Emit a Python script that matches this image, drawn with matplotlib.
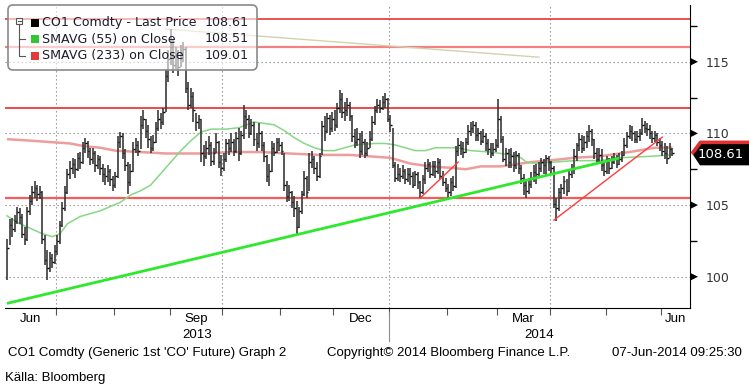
import numpy as np
import pandas as pd
import matplotlib
matplotlib.use("Agg")
import matplotlib.pyplot as plt
import matplotlib.transforms as mtransforms
from matplotlib.patches import FancyBboxPatch, Polygon, Rectangle
from matplotlib.lines import Line2D

W, H = 749, 390

# trading days shown on the chart
first_day, last_day = "2013-06-03", "2014-06-06"

# daily closes, one row per week
closes = [
    102.0, 103.6, 103.3, 103.9, 104.5,
    104.2, 103.0, 102.6, 104.6, 105.3,
    105.9, 106.2, 105.8, 105.9, 102.6,
    101.2, 100.6, 101.3, 101.0, 101.8,
    102.5, 103.6, 104.8, 105.9, 107.2,
    107.6, 107.9, 107.5, 108.3, 108.0,
    109.0, 109.3, 108.8, 108.2, 108.6,
    107.8, 108.2, 107.6, 107.2, 107.0,
    107.4, 106.8, 106.4, 107.0, 109.4,
    109.8, 108.6, 107.8, 106.6, 107.4,
    108.9, 109.2, 108.8, 110.6, 111.0,
    110.2, 109.6, 109.0, 109.4, 110.4,
    111.0, 110.8, 111.5, 114.0, 115.2,
    116.0, 114.8, 115.4, 114.6, 115.6,
    115.9, 113.2, 112.0, 112.6, 111.6,
    110.8, 111.0, 108.6, 108.4, 109.0,
    109.2, 108.1, 108.6, 109.4, 108.0,
    107.6, 108.2, 109.3, 109.0, 109.4,
    108.8, 109.7, 108.6, 109.9, 111.2,
    111.0, 110.0, 110.6, 109.6, 109.3,
    110.0, 109.2, 108.4, 107.0, 107.4,
    109.0, 108.7, 109.4, 109.2, 108.8,
    106.4, 105.6, 105.9, 105.2, 104.8,
    103.5, 104.6, 105.8, 106.9, 105.9,
    108.0, 108.2, 107.6, 107.0, 108.4,
    110.5, 110.2, 111.1, 110.4, 111.0,
    110.6, 111.8, 112.4, 111.5, 111.6,
    112.0, 111.2, 109.8, 109.4, 109.6,
    108.8, 109.4, 108.6, 109.0, 109.6,
    110.8, 111.6, 112.0, 111.8, 112.2,
    112.4, 111.0, 110.6, 107.8, 106.9,
    107.2, 107.0, 107.4, 106.8, 107.2,
    107.0, 106.4, 107.2, 106.6, 105.9,
    106.8, 107.6, 107.9, 107.2, 107.7,
    107.4, 108.0, 107.0, 106.6, 106.2,
    105.9, 106.6, 106.3, 108.8, 109.2,
    109.0, 108.7, 109.4, 110.2, 110.4,
    110.6, 109.9, 110.0, 109.5, 109.8,
    109.3, 108.9, 108.6, 108.9, 109.2,
    111.0, 109.6, 108.2, 108.6, 108.0,
    108.4, 107.8, 108.5, 107.6, 106.9,
    106.4, 106.0, 106.5, 106.9, 107.3,
    107.2, 107.6, 108.0, 107.8, 108.3,
    108.0, 107.6, 105.1, 104.8, 105.9,
    106.2, 106.7, 106.0, 107.2, 107.5,
    108.4, 109.2, 109.6, 109.0, 109.4,
    109.8, 110.2, 109.6, 108.6, 108.2,
    108.5, 107.8, 107.4, 108.1, 107.6,
    108.0, 108.3, 107.9, 108.2, 108.5,
    109.2, 109.8, 110.2, 110.0, 109.6,
    109.8, 110.0, 110.6, 110.4, 110.3,
    110.0, 109.7, 109.9, 109.4, 109.2,
    108.8, 108.6, 108.3, 108.9, 108.61,
]

highs = [
    102.6, 104.0, 104.1, 104.3, 104.9,
    104.8, 104.4, 103.5, 104.9, 105.7,
    106.3, 106.7, 106.4, 106.3, 106.0,
    102.9, 101.9, 101.7, 101.6, 102.2,
    102.9, 103.9, 105.2, 106.3, 107.5,
    108.1, 108.3, 108.2, 108.6, 108.7,
    109.4, 109.7, 109.5, 109.0, 109.0,
    108.8, 108.5, 108.4, 107.9, 107.6,
    107.8, 107.5, 107.0, 107.3, 109.8,
    110.1, 110.0, 108.9, 108.0, 107.9,
    109.4, 109.7, 109.5, 111.2, 111.6,
    111.0, 110.6, 109.8, 109.9, 110.8,
    111.6, 111.4, 111.8, 114.5, 115.8,
    117.3, 116.6, 116.0, 115.8, 116.2,
    116.4, 116.0, 113.6, 113.2, 112.9,
    111.4, 111.3, 111.0, 109.2, 109.5,
    109.8, 109.4, 109.0, 110.0, 109.5,
    108.5, 108.6, 109.6, 109.6, 110.0,
    109.6, 110.1, 110.4, 110.2, 112.0,
    111.6, 111.3, 111.0, 110.8, 110.0,
    110.7, 110.2, 109.4, 108.5, 107.9,
    109.5, 109.3, 109.7, 109.7, 109.4,
    108.6, 106.7, 106.4, 106.0, 105.6,
    105.3, 104.9, 106.0, 107.4, 107.0,
    108.6, 108.8, 108.4, 108.0, 108.6,
    110.9, 111.2, 111.4, 111.3, 111.5,
    111.6, 112.1, 113.0, 112.8, 112.2,
    112.5, 112.2, 111.3, 110.3, 110.4,
    110.0, 110.2, 109.6, 109.4, 110.2,
    111.2, 111.9, 112.4, 112.3, 112.6,
    112.8, 112.5, 111.3, 110.4, 108.0,
    107.9, 107.6, 107.8, 107.5, 107.6,
    107.6, 107.3, 107.4, 107.3, 106.7,
    107.1, 108.0, 108.2, 108.0, 108.1,
    108.1, 108.3, 108.2, 107.4, 106.9,
    106.5, 106.9, 107.0, 109.1, 109.7,
    109.5, 109.4, 109.7, 110.6, 110.8,
    110.9, 110.8, 110.4, 110.2, 110.3,
    110.0, 109.6, 109.3, 109.3, 109.6,
    112.4, 111.2, 109.8, 109.0, 108.9,
    109.0, 108.7, 108.8, 108.6, 107.8,
    107.2, 106.7, 106.9, 107.3, 107.8,
    107.9, 108.0, 108.3, 108.2, 108.5,
    108.4, 108.1, 107.7, 105.5, 106.2,
    106.5, 107.0, 106.8, 107.4, 107.9,
    108.9, 109.3, 110.0, 109.9, 109.8,
    110.2, 110.6, 110.3, 109.6, 109.0,
    109.0, 108.9, 108.1, 108.4, 108.3,
    108.4, 108.6, 108.5, 108.6, 108.8,
    109.7, 110.1, 110.6, 110.5, 110.2,
    110.2, 110.3, 111.1, 110.9, 110.7,
    110.6, 110.2, 110.2, 110.0, 109.7,
    109.5, 109.3, 109.1, 109.3, 109.0,
]

lows = [
    99.8, 102.2, 102.8, 103.1, 103.7,
    103.7, 102.7, 102.2, 102.5, 104.3,
    105.0, 105.5, 105.3, 105.4, 102.3,
    100.8, 99.8, 100.3, 100.6, 100.9,
    101.5, 102.3, 103.5, 104.6, 105.8,
    106.8, 107.2, 106.9, 107.4, 107.5,
    107.9, 108.6, 108.3, 107.8, 107.9,
    107.3, 107.5, 107.1, 106.6, 106.4,
    106.6, 106.3, 106.0, 106.2, 106.9,
    109.0, 108.2, 107.4, 105.8, 106.3,
    107.3, 108.6, 108.4, 108.9, 110.3,
    109.7, 109.0, 108.6, 108.8, 109.3,
    110.2, 110.3, 110.6, 111.5, 113.6,
    114.8, 114.2, 114.5, 114.0, 114.6,
    115.0, 112.8, 111.6, 111.8, 110.8,
    110.2, 110.3, 108.0, 107.7, 108.2,
    108.5, 107.7, 107.8, 108.6, 107.6,
    107.0, 107.4, 108.0, 108.5, 108.7,
    108.4, 108.6, 108.1, 108.5, 109.6,
    110.3, 109.7, 109.9, 109.1, 108.8,
    109.0, 108.8, 108.0, 106.6, 106.3,
    107.3, 108.4, 108.6, 108.8, 108.5,
    106.0, 105.2, 105.3, 104.8, 104.2,
    103.0, 103.4, 104.4, 105.6, 105.5,
    106.0, 107.6, 107.2, 106.7, 106.9,
    108.5, 109.5, 110.0, 109.9, 110.1,
    110.2, 110.4, 111.4, 111.1, 110.9,
    111.2, 110.9, 109.4, 109.0, 109.1,
    108.3, 108.5, 108.3, 108.4, 109.0,
    109.5, 110.6, 111.4, 111.4, 111.6,
    111.8, 110.8, 110.1, 107.6, 106.6,
    106.7, 106.6, 106.8, 106.5, 106.6,
    106.4, 106.2, 106.3, 106.1, 105.5,
    105.8, 106.5, 107.3, 106.9, 107.0,
    106.9, 107.2, 106.8, 106.3, 105.9,
    105.5, 105.6, 106.0, 106.2, 108.4,
    108.5, 108.3, 108.6, 109.2, 109.8,
    110.0, 109.5, 109.5, 109.2, 109.3,
    108.8, 108.5, 108.3, 108.4, 108.7,
    109.0, 109.3, 108.0, 107.7, 107.6,
    107.6, 107.3, 107.5, 107.2, 106.5,
    105.7, 105.5, 105.8, 106.2, 106.6,
    106.5, 106.9, 107.3, 107.2, 107.0,
    107.4, 107.1, 104.8, 103.9, 104.6,
    105.4, 105.8, 105.6, 105.9, 106.9,
    107.2, 108.1, 108.8, 108.6, 108.8,
    109.0, 109.4, 109.1, 108.2, 107.9,
    107.9, 107.4, 107.0, 107.2, 107.2,
    107.5, 107.9, 107.6, 107.8, 108.0,
    108.4, 109.0, 109.6, 109.5, 109.3,
    109.3, 109.5, 109.9, 110.0, 109.8,
    109.6, 109.3, 109.4, 109.1, 108.8,
    108.4, 108.2, 107.9, 108.3, 108.4,
]

# moving averages (trading day number, value)
ma55_day = [0, 5, 9, 14, 18, 21, 24, 29, 37, 45, 49, 53, 57, 61, 65, 69, 73, 77,
            81, 87, 92, 98, 102, 106, 110, 114, 118, 122, 126, 130, 134, 138,
            146, 150, 154, 158, 162, 166, 170, 178, 184, 192, 196, 200, 204,
            206, 210, 217, 225, 235, 243, 255, 264]
ma55 = [104.25, 103.7, 103.4, 103.0, 102.8, 103.0, 103.7, 104.2, 104.6, 105.2,
        105.7, 106.0, 106.4, 107.2, 108.0, 108.8, 109.5, 110.1, 110.3, 110.3,
        110.4, 110.8, 110.7, 110.6, 110.2, 109.7, 109.3, 109.0, 108.8, 108.8,
        109.0, 109.2, 109.3, 109.3, 109.2, 109.0, 108.8, 108.8, 109.0, 109.0,
        108.8, 108.7, 108.6, 108.5, 108.3, 108.0, 107.9, 108.0, 108.1, 108.1,
        108.3, 108.4, 108.51]

ma233_day = [0, 9, 17, 25, 31, 37, 43, 53, 63, 77, 90, 101, 112, 124, 136, 144,
             152, 160, 168, 176, 182, 188, 196, 204, 208, 214, 220, 225, 235,
             247, 257, 264]
ma233 = [109.6, 109.5, 109.4, 109.3, 109.1, 109.0, 108.8, 108.7, 108.6, 108.6,
         108.7, 108.7, 108.6, 108.5, 108.5, 108.4, 108.3, 107.9, 107.7, 107.6,
         107.5, 107.7, 107.7, 107.9, 108.0, 108.1, 108.2, 108.3, 108.4, 108.7,
         109.0, 109.01]

# drawn levels and trend lines
levels = [117.96, 116.05, 111.79, 105.51]
green_trend = ([0, 243], [98.14, 108.28])
red_trend_1 = ([164, 179], [105.5, 108.0])
red_trend_2 = ([217, 260], [103.95, 109.74])
tan_trend = ([63, 211], [117.28, 115.32])

legend_labels = ["CO1 Comdty - Last Price", "SMAVG (55) on Close", "SMAVG (233) on Close"]
legend_values = ["108.61", "108.51", "109.01"]
last_price = "108.61"

days = pd.bdate_range(first_day, last_day)
n = len(days)
idx = np.arange(n)

fig = plt.figure(figsize=(W / 100, H / 100), dpi=100)
ax = fig.add_axes([5 / W, 1 - 308 / H, 685 / W, 303 / H])
ax.set_xlim(-0.79, 271.0)
ax.set_ylim(97.82, 118.96)

PX = mtransforms.IdentityTransform()
narrow = ["Liberation Sans", "DejaVu Sans"]

# grid
dots = dict(color="#8c8c8c", lw=0.8, dashes=(1.2, 2.4), zorder=1)
for v in [100, 105, 110, 115]:
    ax.axhline(v, **dots)

month_new = np.flatnonzero(days.month[1:] != days.month[:-1]) + 1
bounds = month_new - 0.5
for b, i in zip(bounds, month_new):
    if days[i].month in (1, 4, 7, 10):
        ax.axvline(b, **dots)

# horizontal levels
level_colors = ["#e4231f", "#f58080", "#f24646", "#f45c5c"]
level_widths = [1.1, 1.6, 1.4, 1.6]
for v, c, w in zip(levels, level_colors, level_widths):
    ax.axhline(v, color=c, lw=w, zorder=2)

# moving averages
ax.plot(ma233_day, ma233, color="#ee9c9c", lw=1.8, zorder=2, solid_capstyle="butt")
ax.plot(ma55_day, ma55, color="#86d886", lw=1.1, zorder=2)
ax.plot(*tan_trend, color="#d2d2b0", lw=1.0, zorder=2)

# price bars
ax.vlines(idx, lows[:n], highs[:n], color="#3a3a3a", lw=1.2, zorder=3)
ax.hlines(closes[:n], idx, idx + 0.6, color="#000000", lw=1.0, zorder=3)

# trend lines
ax.plot(*green_trend, color="#2ee82e", lw=2.0, zorder=4, solid_capstyle="butt")
ax.plot(*red_trend_1, color="#ff3b3b", lw=1.0, zorder=4)
ax.plot(*red_trend_2, color="#ff3b3b", lw=1.0, zorder=4)

# axes styling
for s in ["top", "left"]:
    ax.spines[s].set_visible(False)
ax.spines["bottom"].set_color("black")
ax.spines["right"].set_color("black")
ax.yaxis.tick_right()
ax.set_yticks([100, 105, 110, 115])
ax.set_yticks([102.5, 107.5, 112.5, 117.5], minor=True)
ax.tick_params(axis="y", which="major", length=0, pad=11, labelsize=9,
               labelcolor="#333333")
ax.tick_params(axis="y", which="minor", length=5, width=1, color="black")
for lab in ax.get_yticklabels():
    lab.set_family("DejaVu Sans")
ax.set_xticks(bounds)
ax.set_xticklabels([])
ax.tick_params(axis="x", which="major", length=5, width=0.8, color="#555555")

# triangles at major y ticks
for v in [100, 105, 110, 115]:
    yc = ax.transData.transform((0, v))[1]
    fig.add_artist(Polygon([(691, yc - 3.5), (698, yc), (691, yc + 3.5)],
                           closed=True, fc="black", ec="none", transform=PX))

# month and year labels
xlo, xhi = ax.get_xlim()
seg_edges = np.r_[xlo, bounds, xhi]
seg_month = np.r_[days[0].month, days.month[month_new]]
for k, m in enumerate(seg_month):
    if m in (3, 6, 9, 12):
        mid = (seg_edges[k] + seg_edges[k + 1]) / 2
        ax.text(mid, -0.016, days[0].replace(month=int(m)).strftime("%b"),
                transform=ax.get_xaxis_transform(), ha="center", va="top",
                fontsize=9.5, family=narrow)
year_split = bounds[list(days.month[month_new]).index(1)]
for year, (a, b) in zip(["2013", "2014"], [(xlo, year_split), (year_split, xhi)]):
    ax.text((a + b) / 2, -0.068, year, transform=ax.get_xaxis_transform(),
            ha="center", va="top", fontsize=9.5, family=narrow)
ax.add_line(Line2D([year_split, year_split], [-0.012, -0.11], color="#8c8c8c",
                   lw=0.8, transform=ax.get_xaxis_transform(), clip_on=False))

# last price tag
yl = ax.transData.transform((0, float(last_price)))[1]
fig.add_artist(Polygon([(692, yl), (700, yl + 12), (749, yl + 12), (749, yl - 12),
                        (700, yl - 12)], closed=True, fc="black", ec="none",
                       transform=PX))
fig.add_artist(Line2D([693, 700.5, 749], [yl + 1, yl + 11, yl + 11],
                      color="#e03030", lw=2.6, transform=PX))
fig.text(721, yl - 1, last_price, transform=PX, color="white", fontsize=9.5,
         ha="center", va="center")

# legend
fig.add_artist(FancyBboxPatch((8, H - 70), 249, 65,
                              boxstyle="round,pad=0,rounding_size=5",
                              fc=(1, 1, 1, 0.6), ec="#8a8a8a", lw=1.2,
                              transform=PX, zorder=10))
tree = "#555555"
fig.add_artist(Rectangle((16, H - 24), 6, 6, fc="white", ec=tree, lw=0.8,
                         transform=PX, zorder=11))
fig.add_artist(Line2D([17.5, 20.5], [H - 21, H - 21], color=tree, lw=0.8,
                      transform=PX, zorder=11))
fig.add_artist(Line2D([19, 19, 25], [H - 24, H - 56, H - 56], color=tree, lw=0.8,
                      transform=PX, zorder=11))
fig.add_artist(Line2D([19, 25], [H - 39, H - 39], color=tree, lw=0.8,
                      transform=PX, zorder=11))
swatches = ["#000000", "#33c633", "#e03a3a"]
rows = [22.5, 39, 55.5]
for lab, val, col, yr in zip(legend_labels, legend_values, swatches, rows):
    fig.add_artist(Rectangle((31, H - yr - 4), 8, 8, fc=col, ec="none",
                             transform=PX, zorder=11))
    fig.text(42, H - yr, lab, transform=PX, fontsize=9.1, color="#1c1c2c",
             va="center", ha="left", zorder=12)
    fig.text(249, H - yr, val, transform=PX, fontsize=9.1, color="#1c1c2c",
             va="center", ha="right", zorder=12)

# footer
foot = dict(transform=PX, fontsize=9.5, family=narrow, va="center")
fig.text(8, H - 353, "CO1 Comdty (Generic 1st 'CO' Future) Graph 2", **foot)
fig.text(327, H - 353, "Copyright\u00a9 2014 Bloomberg Finance L.P.", **foot)
fig.text(742, H - 353, "07-Jun-2014 09:25:30", ha="right", **foot)
fig.text(5, H - 378, "K\u00e4lla: Bloomberg", **foot)

fig.savefig("out.png", dpi=100)
